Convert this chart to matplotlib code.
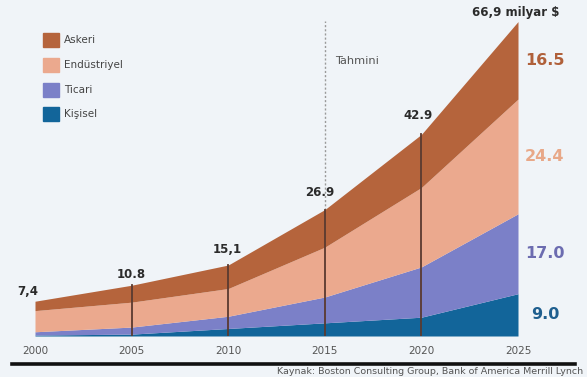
import matplotlib
matplotlib.use("Agg")
import matplotlib.pyplot as plt
from matplotlib.lines import Line2D
import numpy as np

plt.rcParams['font.family'] = ['DejaVu Sans']

# Market size by segment (milyar $)
years = [2000, 2005, 2010, 2015, 2020, 2025]
kisisel = [0.2, 0.4, 1.6, 2.8, 4.0, 9.0]
ticari = [0.7, 1.5, 2.6, 5.5, 10.7, 17.0]
endustriyel = [4.5, 5.3, 5.9, 10.6, 16.9, 24.4]
askeri = [2.0, 3.6, 5.0, 8.0, 11.3, 16.5]

series_names = ["Kişisel", "Ticari", "Endüstriyel", "Askeri"]
series_colors = ["#12659a", "#7b80c8", "#eba98e", "#b5643c"]
right_label_colors = ["#1f5f8f", "#6c6cb0", "#e8a888", "#b0603a"]

total_labels = ["7,4", "10.8", "15,1", "26.9", "42.9", "66,9 milyar $"]
right_labels = ["9.0", "17.0", "24.4", "16.5"]
tick_labels = ["2000", "2005", "2010", "2015", "2020", "2025"]
source_text = "Kaynak: Boston Consulting Group, Bank of America Merrill Lynch"

W, H = 587, 377
bg = "#f0f4f8"
fig = plt.figure(figsize=(W / 100, H / 100), dpi=100, facecolor=bg)
ax = fig.add_axes([35 / W, (H - 336) / H, (518 - 35) / W, 329 / H])
ax.set_facecolor(bg)
ax.set_xlim(2000, 2025)
ax.set_ylim(0, 70)
for s in ax.spines.values():
    s.set_visible(False)
ax.set_yticks([])

stack = np.vstack([kisisel, ticari, endustriyel, askeri])
cum = np.cumsum(stack, axis=0)
lower = np.zeros(len(years))
for i in range(4):
    ax.fill_between(years, lower, cum[i], color=series_colors[i], lw=0, zorder=2)
    lower = cum[i]
totals = cum[-1]

# Vertical markers at intermediate years
for x, t in zip(years[1:-1], totals[1:-1]):
    ax.plot([x, x], [0, t], color="#5a3a30", lw=1.3, zorder=3)

# Forecast divider
ax.plot([2015, 2015], [totals[3], 67], color="#9a9a9a", lw=1.0,
        ls=(0, (1.5, 1.5)), zorder=1, clip_on=False)
fig.text(335 / W, (H - 61) / H, "Tahmini", fontsize=8.2, color="#555555",
         va="center", ha="left")

# Total labels above each year
offsets = [(-7, 10), (0, 11), (-1, 16), (-5, 17), (-3, 19), (-2, 9)]
for x, t, lab, off in zip(years, totals, total_labels, offsets):
    ax.annotate(lab, xy=(x, t), xytext=off, textcoords="offset pixels",
                ha="center", va="center", fontsize=8.5, fontweight="bold",
                color="#2b2b2b", annotation_clip=False)

# Segment values for 2025 at the right
lower = 0
for i in range(4):
    mid = lower + stack[i, -1] / 2
    ax.annotate(right_labels[i], xy=(2025, mid), xytext=(27, 0),
                textcoords="offset pixels", ha="center", va="center",
                fontsize=11.5, fontweight="bold", color=right_label_colors[i],
                annotation_clip=False)
    lower += stack[i, -1]

ax.set_xticks(years)
ax.set_xticklabels(tick_labels)
ax.tick_params(axis="x", length=0, pad=7, labelsize=7.5, labelcolor="#555555")

# Legend
legend_y = [40, 65, 90, 114]
for name, y in zip(["Askeri", "Endüstriyel", "Ticari", "Kişisel"], legend_y):
    color = series_colors[series_names.index(name)]
    fig.patches.append(plt.Rectangle((43 / W, (H - y - 7) / H), 16 / W, 14 / H,
                                     transform=fig.transFigure, color=color))
    fig.text(64 / W, (H - y) / H, name, fontsize=7.5, color="#444444",
             va="center", ha="left")

# Bottom rule and source
fig.add_artist(Line2D([12 / W, 575 / W], [(H - 364) / H] * 2, color="#111111",
                      lw=2.6, transform=fig.transFigure))
fig.text(583 / W, (H - 371) / H, source_text, fontsize=6.8, color="#555555",
         ha="right", va="center")

fig.savefig("out.png", dpi=100, facecolor=bg)
